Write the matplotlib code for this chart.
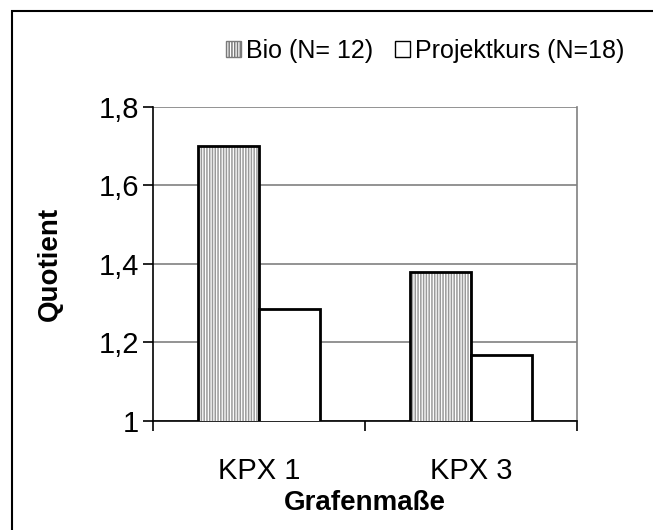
import matplotlib
matplotlib.use("Agg")
import matplotlib.pyplot as plt
from matplotlib.patches import Patch, Rectangle
import numpy as np

categories = ["KPX 1", "KPX 3"]
bio_values = [1.70, 1.38]
projekt_values = [1.285, 1.168]
series_labels = ["Bio (N= 12)", "Projektkurs (N=18)"]
y_ticks = [1.0, 1.2, 1.4, 1.6, 1.8]
y_tick_labels = ["1", "1,2", "1,4", "1,6", "1,8"]

plt.rcParams["font.family"] = ["Liberation Sans", "DejaVu Sans"]
plt.rcParams["hatch.linewidth"] = 1.1

fig = plt.figure(figsize=(6.53, 5.30), dpi=100)
ax = fig.add_axes([0.2343, 0.2066, 0.8836 - 0.2343, 0.7981 - 0.2066])

x = np.arange(len(categories))
w = 0.29

# striped fill first, then the black outlines on top
ax.bar(x - w / 2, bio_values, width=w, facecolor="white",
       edgecolor="#9a9a9a", hatch="||||||", linewidth=0, zorder=3)
ax.bar(x - w / 2, bio_values, width=w, facecolor="none",
       edgecolor="black", linewidth=2, zorder=4)
ax.bar(x + w / 2, projekt_values, width=w, facecolor="white",
       edgecolor="black", linewidth=2, zorder=4)

ax.set_ylim(1.0, 1.8)
ax.set_xlim(-0.5, len(categories) - 0.5)

ax.set_yticks(y_ticks)
ax.set_yticklabels(y_tick_labels, fontsize=21)
ax.yaxis.grid(True, color="#808080", linewidth=1.2, zorder=0)
ax.set_axisbelow(True)

ax.set_xticks(x)
ax.set_xticklabels(categories, fontsize=21)
ax.tick_params(axis="x", length=0, pad=26)
ax.set_xticks(np.arange(-0.5, len(categories)), minor=True)
ax.tick_params(axis="x", which="minor", length=7, width=1.2, direction="out")
ax.tick_params(axis="y", length=7, width=1.2, direction="out", pad=3)

for side in ["left", "bottom"]:
    ax.spines[side].set_color("black")
    ax.spines[side].set_linewidth(1.2)
ax.spines["right"].set_color("#808080")
ax.spines["right"].set_linewidth(1.2)
ax.spines["top"].set_visible(False)

ax.set_xlabel("Grafenmaße", fontsize=20, fontweight="bold", labelpad=4)
ax.set_ylabel("Quotient", fontsize=20, fontweight="bold", labelpad=26)

handles = [
    Patch(facecolor="white", edgecolor="#7a7a7a", hatch="||||||", linewidth=1),
    Patch(facecolor="white", edgecolor="black", linewidth=1),
]
fig.legend(handles, series_labels, loc="center", bbox_to_anchor=(0.651, 0.904),
           ncol=2, frameon=False, fontsize=18, handlelength=0.6,
           handleheight=0.6, handletextpad=0.2, columnspacing=0.85)

# outer chart border
fig.patches.append(Rectangle((12 / 653, -0.1), 2, 1.1 - 11 / 530,
                             transform=fig.transFigure, fill=False,
                             edgecolor="black", linewidth=1.5))

fig.savefig("out.png", dpi=100)
